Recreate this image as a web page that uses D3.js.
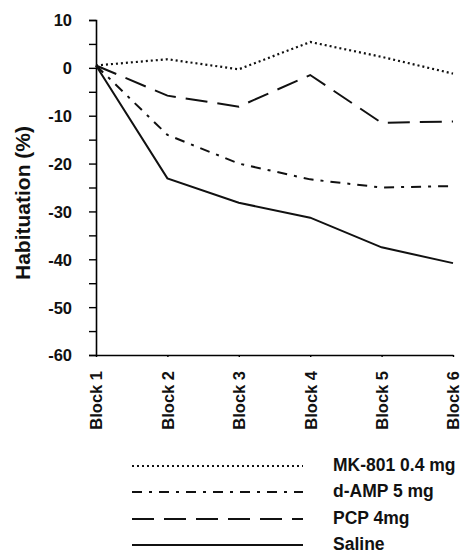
<!DOCTYPE html>
<html>
<head>
<meta charset="utf-8">
<script src="https://cdn.jsdelivr.net/npm/d3@7"></script>
<style>
  body { margin: 0; background: #fff; }
  text { font-family: "Liberation Sans", Arial, sans-serif; font-weight: bold; fill: #111; }
</style>
</head>
<body>
<svg id="chart" width="463" height="554"></svg>
<script>
var blocks = ["Block 1", "Block 2", "Block 3", "Block 4", "Block 5", "Block 6"];
var yTicks = [10, 0, -10, -20, -30, -40, -50, -60];

var mk801 = [0.5, 1.8, -0.3, 5.4, 2.3, -1.2];
var dAmp = [0.5, -14, -20, -23.3, -25, -24.7];
var pcp = [0.5, -5.8, -8.1, -1.5, -11.5, -11.2];
var saline = [0.5, -23.1, -28.2, -31.3, -37.5, -40.8];

var seriesNames = ["MK-801 0.4 mg", "d-AMP 5 mg", "PCP 4mg", "Saline"];
var seriesData = [mk801, dAmp, pcp, saline];
var dashes = ["2,3", "10,7,3,7", "22,10", null];

var svg = d3.select("#chart");

var x = d3.scalePoint().domain(blocks).range([96, 453]);
var y = d3.scaleLinear().domain([-60, 10]).range([355, 20]);

// y axis, minor ticks every 5
var yAxis = d3.axisLeft(y)
    .tickValues(d3.range(-60, 11, 5))
    .tickSize(7)
    .tickFormat(function(d) { return yTicks.indexOf(d) >= 0 ? d : ""; });

var gy = svg.append("g").attr("transform", "translate(96,0)").call(yAxis);
gy.select(".domain").attr("stroke", "#000").attr("stroke-width", 1.6);
gy.selectAll(".tick line").attr("stroke", "#000").attr("stroke-width", 1.4);
gy.selectAll(".tick text").attr("x", -24).attr("dy", "0.36em")
    .style("font-size", "16.5px").style("font-family", "Liberation Sans, Arial, sans-serif").style("font-weight", "bold");

// x axis
var xAxis = d3.axisBottom(x).tickSize(2).tickSizeOuter(0);
var gx = svg.append("g").attr("transform", "translate(0,355)").call(xAxis);
gx.select(".domain").attr("stroke", "#000").attr("stroke-width", 1.6);
gx.selectAll(".tick line").attr("stroke", "#000").attr("stroke-width", 1.4);
gx.selectAll(".tick text")
    .attr("transform", "rotate(-90)")
    .attr("x", -16).attr("y", 0).attr("dy", "0.36em")
    .attr("text-anchor", "end")
    .style("font-size", "16.5px").style("font-family", "Liberation Sans, Arial, sans-serif").style("font-weight", "bold");

// y label
svg.append("text")
    .attr("transform", "translate(30,203) rotate(-90)")
    .attr("text-anchor", "middle")
    .style("font-size", "21px")
    .text("Habituation (%)");

var line = d3.line()
    .x(function(d, i) { return x(blocks[i]); })
    .y(function(d) { return y(d); });

seriesData.forEach(function(s, i) {
  svg.append("path")
      .attr("d", line(s))
      .attr("fill", "none")
      .attr("stroke", "#111")
      .attr("stroke-width", i == 0 ? 2.2 : 2)
      .attr("stroke-dasharray", dashes[i]);
});

// legend
var legendY = [466, 492, 519, 545];
seriesNames.forEach(function(name, i) {
  svg.append("line")
      .attr("x1", 132).attr("x2", 303)
      .attr("y1", legendY[i]).attr("y2", legendY[i])
      .attr("stroke", "#111")
      .attr("stroke-width", i == 0 ? 2.2 : 2)
      .attr("stroke-dasharray", dashes[i]);
  svg.append("text")
      .attr("x", 333).attr("y", legendY[i] - 1)
      .attr("dy", "0.36em")
      .style("font-size", "17.5px")
      .text(name);
});
</script>
</body>
</html>
